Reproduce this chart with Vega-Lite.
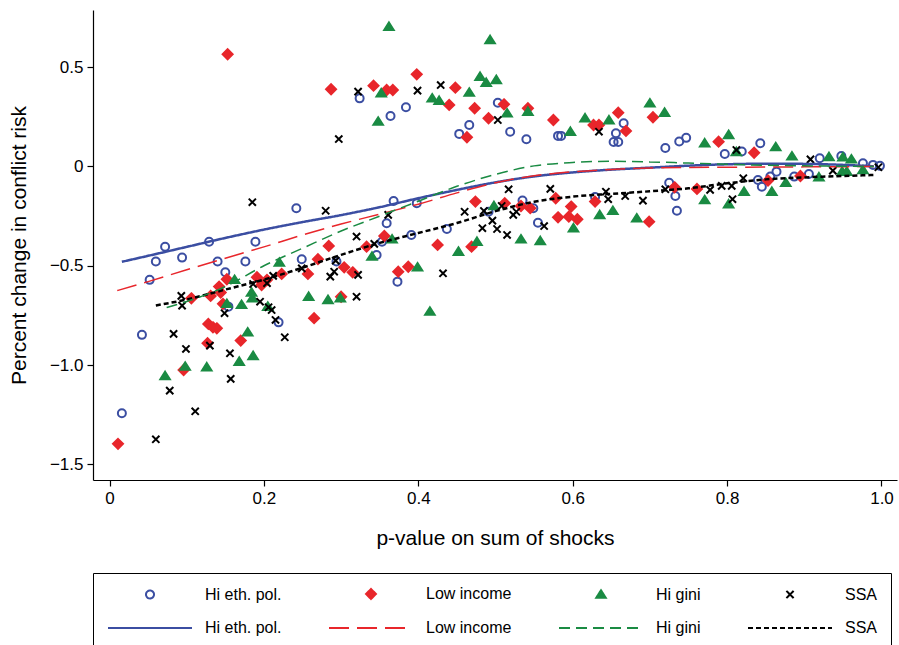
{
  "$schema": "https://vega.github.io/schema/vega-lite/v6.json",
  "width": 804,
  "height": 470,
  "autosize": {"type": "none"},
  "padding": {"left": 93, "top": 10, "right": 2, "bottom": 165},
  "background": "white",
  "config": {
    "view": {"stroke": null},
    "font": "Liberation Sans",
    "axis": {"grid": false, "domainColor": "#000", "domainWidth": 1.2, "tickColor": "#000", "tickWidth": 1.2, "tickSize": 6, "labelColor": "#000", "labelFont": "Liberation Sans", "labelFontSize": 17, "titleFont": "Liberation Sans", "titleFontSize": 21, "titleFontWeight": "normal", "titleColor": "#000"},
    "legend": {"labelFont": "Liberation Sans", "labelFontSize": 16, "labelColor": "#000", "symbolSize": 100, "symbolStrokeWidth": 2, "symbolOpacity": 1}
  },
  "datasets": {
    "pts": [
      {"k":"Hi eth. pol.","p":0.016,"v":-1.243},{"k":"Hi eth. pol.","p":0.042,"v":-0.848},{"k":"Hi eth. pol.","p":0.052,"v":-0.571},{"k":"Hi eth. pol.","p":0.060,"v":-0.479},{"k":"Hi eth. pol.","p":0.072,"v":-0.404},{"k":"Hi eth. pol.","p":0.094,"v":-0.459},{"k":"Hi eth. pol.","p":0.129,"v":-0.379},{"k":"Hi eth. pol.","p":0.140,"v":-0.479},{"k":"Hi eth. pol.","p":0.150,"v":-0.533},{"k":"Hi eth. pol.","p":0.154,"v":-0.706},{"k":"Hi eth. pol.","p":0.176,"v":-0.479},{"k":"Hi eth. pol.","p":0.189,"v":-0.379},{"k":"Hi eth. pol.","p":0.219,"v":-0.785},{"k":"Hi eth. pol.","p":0.242,"v":-0.210},{"k":"Hi eth. pol.","p":0.249,"v":-0.467},{"k":"Hi eth. pol.","p":0.294,"v":-0.479},{"k":"Hi eth. pol.","p":0.346,"v":-0.446},{"k":"Hi eth. pol.","p":0.353,"v":-0.379},{"k":"Hi eth. pol.","p":0.359,"v":-0.286},{"k":"Hi eth. pol.","p":0.368,"v":-0.174},{"k":"Hi eth. pol.","p":0.398,"v":-0.185},{"k":"Hi eth. pol.","p":0.373,"v":-0.580},{"k":"Hi eth. pol.","p":0.391,"v":-0.345},{"k":"Hi eth. pol.","p":0.437,"v":-0.315},{"k":"Hi eth. pol.","p":0.491,"v":-0.228},{"k":"Hi eth. pol.","p":0.535,"v":-0.172},{"k":"Hi eth. pol.","p":0.549,"v":-0.210},{"k":"Hi eth. pol.","p":0.555,"v":-0.283},{"k":"Hi eth. pol.","p":0.629,"v":-0.154},{"k":"Hi eth. pol.","p":0.725,"v":-0.082},{"k":"Hi eth. pol.","p":0.733,"v":-0.149},{"k":"Hi eth. pol.","p":0.735,"v":-0.223},{"k":"Hi eth. pol.","p":0.797,"v":0.063},{"k":"Hi eth. pol.","p":0.819,"v":0.075},{"k":"Hi eth. pol.","p":0.843,"v":0.117},{"k":"Hi eth. pol.","p":0.840,"v":-0.068},{"k":"Hi eth. pol.","p":0.845,"v":-0.102},{"k":"Hi eth. pol.","p":0.856,"v":-0.051},{"k":"Hi eth. pol.","p":0.864,"v":-0.026},{"k":"Hi eth. pol.","p":0.887,"v":-0.051},{"k":"Hi eth. pol.","p":0.906,"v":-0.038},{"k":"Hi eth. pol.","p":0.920,"v":0.041},{"k":"Hi eth. pol.","p":0.976,"v":0.016},{"k":"Hi eth. pol.","p":0.989,"v":0.008},{"k":"Hi eth. pol.","p":0.998,"v":0.003},{"k":"Hi eth. pol.","p":0.324,"v":0.343},{"k":"Hi eth. pol.","p":0.364,"v":0.254},{"k":"Hi eth. pol.","p":0.384,"v":0.298},{"k":"Hi eth. pol.","p":0.453,"v":0.164},{"k":"Hi eth. pol.","p":0.466,"v":0.209},{"k":"Hi eth. pol.","p":0.503,"v":0.321},{"k":"Hi eth. pol.","p":0.519,"v":0.175},{"k":"Hi eth. pol.","p":0.540,"v":0.137},{"k":"Hi eth. pol.","p":0.581,"v":0.154},{"k":"Hi eth. pol.","p":0.585,"v":0.154},{"k":"Hi eth. pol.","p":0.666,"v":0.218},{"k":"Hi eth. pol.","p":0.656,"v":0.167},{"k":"Hi eth. pol.","p":0.653,"v":0.123},{"k":"Hi eth. pol.","p":0.659,"v":0.123},{"k":"Hi eth. pol.","p":0.720,"v":0.093},{"k":"Hi eth. pol.","p":0.738,"v":0.126},{"k":"Hi eth. pol.","p":0.747,"v":0.144},{"k":"Hi eth. pol.","p":0.948,"v":0.053},
      {"k":"Low income","p":0.011,"v":-1.397},{"k":"Low income","p":0.096,"v":-1.025},{"k":"Low income","p":0.106,"v":-0.664},{"k":"Low income","p":0.128,"v":-0.793},{"k":"Low income","p":0.134,"v":-0.810},{"k":"Low income","p":0.139,"v":-0.815},{"k":"Low income","p":0.127,"v":-0.890},{"k":"Low income","p":0.131,"v":-0.652},{"k":"Low income","p":0.142,"v":-0.605},{"k":"Low income","p":0.144,"v":-0.635},{"k":"Low income","p":0.147,"v":-0.692},{"k":"Low income","p":0.152,"v":-0.568},{"k":"Low income","p":0.170,"v":-0.877},{"k":"Low income","p":0.191,"v":-0.558},{"k":"Low income","p":0.197,"v":-0.597},{"k":"Low income","p":0.204,"v":-0.571},{"k":"Low income","p":0.223,"v":-0.541},{"k":"Low income","p":0.257,"v":-0.541},{"k":"Low income","p":0.265,"v":-0.764},{"k":"Low income","p":0.270,"v":-0.467},{"k":"Low income","p":0.284,"v":-0.400},{"k":"Low income","p":0.300,"v":-0.656},{"k":"Low income","p":0.304,"v":-0.508},{"k":"Low income","p":0.315,"v":-0.533},{"k":"Low income","p":0.333,"v":-0.404},{"k":"Low income","p":0.356,"v":-0.350},{"k":"Low income","p":0.374,"v":-0.530},{"k":"Low income","p":0.387,"v":-0.505},{"k":"Low income","p":0.425,"v":-0.395},{"k":"Low income","p":0.469,"v":-0.404},{"k":"Low income","p":0.474,"v":-0.177},{"k":"Low income","p":0.512,"v":-0.185},{"k":"Low income","p":0.533,"v":-0.199},{"k":"Low income","p":0.545,"v":-0.210},{"k":"Low income","p":0.578,"v":-0.160},{"k":"Low income","p":0.581,"v":-0.256},{"k":"Low income","p":0.595,"v":-0.253},{"k":"Low income","p":0.598,"v":-0.202},{"k":"Low income","p":0.606,"v":-0.266},{"k":"Low income","p":0.629,"v":-0.177},{"k":"Low income","p":0.699,"v":-0.278},{"k":"Low income","p":0.732,"v":-0.105},{"k":"Low income","p":0.761,"v":-0.113},{"k":"Low income","p":0.853,"v":-0.071},{"k":"Low income","p":0.895,"v":-0.048},{"k":"Low income","p":0.659,"v":0.271},{"k":"Low income","p":0.704,"v":0.248},{"k":"Low income","p":0.627,"v":0.209},{"k":"Low income","p":0.634,"v":0.209},{"k":"Low income","p":0.669,"v":0.179},{"k":"Low income","p":0.789,"v":0.125},{"k":"Low income","p":0.835,"v":0.069},{"k":"Low income","p":0.287,"v":0.389},{"k":"Low income","p":0.342,"v":0.407},{"k":"Low income","p":0.359,"v":0.385},{"k":"Low income","p":0.367,"v":0.385},{"k":"Low income","p":0.398,"v":0.464},{"k":"Low income","p":0.448,"v":0.397},{"k":"Low income","p":0.440,"v":0.310},{"k":"Low income","p":0.473,"v":0.293},{"k":"Low income","p":0.463,"v":0.147},{"k":"Low income","p":0.491,"v":0.243},{"k":"Low income","p":0.511,"v":0.313},{"k":"Low income","p":0.542,"v":0.293},{"k":"Low income","p":0.575,"v":0.234},{"k":"Low income","p":0.153,"v":0.565},
      {"k":"Hi gini","p":0.072,"v":-1.055},{"k":"Hi gini","p":0.098,"v":-1.008},{"k":"Hi gini","p":0.126,"v":-1.011},{"k":"Hi gini","p":0.162,"v":-0.571},{"k":"Hi gini","p":0.152,"v":-0.692},{"k":"Hi gini","p":0.171,"v":-0.697},{"k":"Hi gini","p":0.184,"v":-0.635},{"k":"Hi gini","p":0.185,"v":-0.664},{"k":"Hi gini","p":0.179,"v":-0.835},{"k":"Hi gini","p":0.168,"v":-0.983},{"k":"Hi gini","p":0.186,"v":-0.954},{"k":"Hi gini","p":0.220,"v":-0.484},{"k":"Hi gini","p":0.205,"v":-0.706},{"k":"Hi gini","p":0.258,"v":-0.656},{"k":"Hi gini","p":0.283,"v":-0.672},{"k":"Hi gini","p":0.299,"v":-0.664},{"k":"Hi gini","p":0.340,"v":-0.454},{"k":"Hi gini","p":0.366,"v":-0.367},{"k":"Hi gini","p":0.399,"v":-0.508},{"k":"Hi gini","p":0.415,"v":-0.731},{"k":"Hi gini","p":0.452,"v":-0.429},{"k":"Hi gini","p":0.476,"v":-0.379},{"k":"Hi gini","p":0.498,"v":-0.199},{"k":"Hi gini","p":0.533,"v":-0.367},{"k":"Hi gini","p":0.558,"v":-0.375},{"k":"Hi gini","p":0.601,"v":-0.311},{"k":"Hi gini","p":0.635,"v":-0.244},{"k":"Hi gini","p":0.652,"v":-0.223},{"k":"Hi gini","p":0.683,"v":-0.261},{"k":"Hi gini","p":0.771,"v":-0.169},{"k":"Hi gini","p":0.802,"v":-0.190},{"k":"Hi gini","p":0.822,"v":-0.127},{"k":"Hi gini","p":0.858,"v":-0.127},{"k":"Hi gini","p":0.876,"v":-0.082},{"k":"Hi gini","p":0.919,"v":-0.054},{"k":"Hi gini","p":0.949,"v":-0.026},{"k":"Hi gini","p":0.955,"v":-0.026},{"k":"Hi gini","p":0.976,"v":-0.018},{"k":"Hi gini","p":0.362,"v":0.704},{"k":"Hi gini","p":0.352,"v":0.369},{"k":"Hi gini","p":0.348,"v":0.226},{"k":"Hi gini","p":0.418,"v":0.343},{"k":"Hi gini","p":0.427,"v":0.331},{"k":"Hi gini","p":0.466,"v":0.372},{"k":"Hi gini","p":0.480,"v":0.452},{"k":"Hi gini","p":0.488,"v":0.422},{"k":"Hi gini","p":0.501,"v":0.436},{"k":"Hi gini","p":0.493,"v":0.637},{"k":"Hi gini","p":0.515,"v":0.268},{"k":"Hi gini","p":0.542,"v":0.276},{"k":"Hi gini","p":0.597,"v":0.175},{"k":"Hi gini","p":0.616,"v":0.243},{"k":"Hi gini","p":0.647,"v":0.233},{"k":"Hi gini","p":0.700,"v":0.318},{"k":"Hi gini","p":0.719,"v":0.271},{"k":"Hi gini","p":0.771,"v":0.117},{"k":"Hi gini","p":0.802,"v":0.159},{"k":"Hi gini","p":0.812,"v":0.073},{"k":"Hi gini","p":0.863,"v":0.098},{"k":"Hi gini","p":0.884,"v":0.051},{"k":"Hi gini","p":0.932,"v":0.048},{"k":"Hi gini","p":0.950,"v":0.046},{"k":"Hi gini","p":0.961,"v":0.036},
      {"k":"SSA","p":0.060,"v":-1.374},{"k":"SSA","p":0.078,"v":-1.129},{"k":"SSA","p":0.111,"v":-1.233},{"k":"SSA","p":0.083,"v":-0.843},{"k":"SSA","p":0.099,"v":-0.919},{"k":"SSA","p":0.093,"v":-0.652},{"k":"SSA","p":0.094,"v":-0.701},{"k":"SSA","p":0.130,"v":-0.902},{"k":"SSA","p":0.149,"v":-0.739},{"k":"SSA","p":0.156,"v":-0.941},{"k":"SSA","p":0.157,"v":-1.070},{"k":"SSA","p":0.185,"v":-0.180},{"k":"SSA","p":0.186,"v":-0.592},{"k":"SSA","p":0.195,"v":-0.681},{"k":"SSA","p":0.204,"v":-0.588},{"k":"SSA","p":0.212,"v":-0.551},{"k":"SSA","p":0.206,"v":-0.709},{"k":"SSA","p":0.210,"v":-0.723},{"k":"SSA","p":0.215,"v":-0.773},{"k":"SSA","p":0.227,"v":-0.860},{"k":"SSA","p":0.249,"v":-0.513},{"k":"SSA","p":0.286,"v":-0.555},{"k":"SSA","p":0.291,"v":-0.530},{"k":"SSA","p":0.293,"v":-0.474},{"k":"SSA","p":0.320,"v":-0.353},{"k":"SSA","p":0.322,"v":-0.546},{"k":"SSA","p":0.320,"v":-0.656},{"k":"SSA","p":0.343,"v":-0.390},{"k":"SSA","p":0.280,"v":-0.223},{"k":"SSA","p":0.361,"v":-0.244},{"k":"SSA","p":0.460,"v":-0.228},{"k":"SSA","p":0.485,"v":-0.224},{"k":"SSA","p":0.517,"v":-0.115},{"k":"SSA","p":0.508,"v":-0.199},{"k":"SSA","p":0.523,"v":-0.244},{"k":"SSA","p":0.527,"v":-0.228},{"k":"SSA","p":0.496,"v":-0.273},{"k":"SSA","p":0.483,"v":-0.311},{"k":"SSA","p":0.502,"v":-0.315},{"k":"SSA","p":0.515,"v":-0.345},{"k":"SSA","p":0.563,"v":-0.300},{"k":"SSA","p":0.571,"v":-0.113},{"k":"SSA","p":0.432,"v":-0.538},{"k":"SSA","p":0.643,"v":-0.127},{"k":"SSA","p":0.646,"v":-0.165},{"k":"SSA","p":0.668,"v":-0.149},{"k":"SSA","p":0.691,"v":-0.172},{"k":"SSA","p":0.720,"v":-0.115},{"k":"SSA","p":0.634,"v":0.175},{"k":"SSA","p":0.778,"v":-0.118},{"k":"SSA","p":0.793,"v":-0.098},{"k":"SSA","p":0.806,"v":-0.098},{"k":"SSA","p":0.821,"v":-0.059},{"k":"SSA","p":0.807,"v":-0.165},{"k":"SSA","p":0.812,"v":0.083},{"k":"SSA","p":0.908,"v":0.036},{"k":"SSA","p":0.937,"v":-0.021},{"k":"SSA","p":0.996,"v":-0.004},{"k":"SSA","p":0.322,"v":0.377},{"k":"SSA","p":0.399,"v":0.382},{"k":"SSA","p":0.429,"v":0.410},{"k":"SSA","p":0.297,"v":0.138},{"k":"SSA","p":0.503,"v":0.234}
    ],
    "fits": [
      {"k":"Hi eth. pol. fit","p":0.016,"v":-0.48},{"k":"Hi eth. pol. fit","p":0.05,"v":-0.45},{"k":"Hi eth. pol. fit","p":0.1,"v":-0.405},{"k":"Hi eth. pol. fit","p":0.15,"v":-0.36},{"k":"Hi eth. pol. fit","p":0.2,"v":-0.318},{"k":"Hi eth. pol. fit","p":0.25,"v":-0.28},{"k":"Hi eth. pol. fit","p":0.3,"v":-0.245},{"k":"Hi eth. pol. fit","p":0.35,"v":-0.205},{"k":"Hi eth. pol. fit","p":0.4,"v":-0.16},{"k":"Hi eth. pol. fit","p":0.45,"v":-0.118},{"k":"Hi eth. pol. fit","p":0.5,"v":-0.08},{"k":"Hi eth. pol. fit","p":0.55,"v":-0.05},{"k":"Hi eth. pol. fit","p":0.6,"v":-0.03},{"k":"Hi eth. pol. fit","p":0.65,"v":-0.016},{"k":"Hi eth. pol. fit","p":0.7,"v":-0.006},{"k":"Hi eth. pol. fit","p":0.75,"v":0.004},{"k":"Hi eth. pol. fit","p":0.8,"v":0.011},{"k":"Hi eth. pol. fit","p":0.85,"v":0.014},{"k":"Hi eth. pol. fit","p":0.9,"v":0.013},{"k":"Hi eth. pol. fit","p":0.95,"v":0.008},{"k":"Hi eth. pol. fit","p":0.99,"v":0.001},
      {"k":"Low income fit","p":0.01,"v":-0.625},{"k":"Low income fit","p":0.05,"v":-0.58},{"k":"Low income fit","p":0.1,"v":-0.52},{"k":"Low income fit","p":0.15,"v":-0.462},{"k":"Low income fit","p":0.2,"v":-0.405},{"k":"Low income fit","p":0.25,"v":-0.345},{"k":"Low income fit","p":0.3,"v":-0.29},{"k":"Low income fit","p":0.35,"v":-0.24},{"k":"Low income fit","p":0.4,"v":-0.19},{"k":"Low income fit","p":0.45,"v":-0.133},{"k":"Low income fit","p":0.5,"v":-0.082},{"k":"Low income fit","p":0.55,"v":-0.047},{"k":"Low income fit","p":0.6,"v":-0.027},{"k":"Low income fit","p":0.65,"v":-0.015},{"k":"Low income fit","p":0.7,"v":-0.008},{"k":"Low income fit","p":0.75,"v":-0.005},{"k":"Low income fit","p":0.8,"v":-0.004},{"k":"Low income fit","p":0.85,"v":-0.003},{"k":"Low income fit","p":0.9,"v":-0.002},{"k":"Low income fit","p":0.95,"v":-0.001},{"k":"Low income fit","p":0.99,"v":0.0},
      {"k":"Hi gini fit","p":0.074,"v":-0.71},{"k":"Hi gini fit","p":0.1,"v":-0.68},{"k":"Hi gini fit","p":0.15,"v":-0.605},{"k":"Hi gini fit","p":0.2,"v":-0.5},{"k":"Hi gini fit","p":0.25,"v":-0.412},{"k":"Hi gini fit","p":0.3,"v":-0.325},{"k":"Hi gini fit","p":0.35,"v":-0.25},{"k":"Hi gini fit","p":0.4,"v":-0.175},{"k":"Hi gini fit","p":0.45,"v":-0.1},{"k":"Hi gini fit","p":0.5,"v":-0.04},{"k":"Hi gini fit","p":0.55,"v":0.003},{"k":"Hi gini fit","p":0.6,"v":0.02},{"k":"Hi gini fit","p":0.65,"v":0.026},{"k":"Hi gini fit","p":0.7,"v":0.023},{"k":"Hi gini fit","p":0.75,"v":0.017},{"k":"Hi gini fit","p":0.8,"v":0.011},{"k":"Hi gini fit","p":0.85,"v":0.006},{"k":"Hi gini fit","p":0.9,"v":0.003},{"k":"Hi gini fit","p":0.95,"v":0.001},{"k":"Hi gini fit","p":0.99,"v":0.0},
      {"k":"SSA fit","p":0.06,"v":-0.70},{"k":"SSA fit","p":0.1,"v":-0.67},{"k":"SSA fit","p":0.15,"v":-0.62},{"k":"SSA fit","p":0.2,"v":-0.57},{"k":"SSA fit","p":0.25,"v":-0.51},{"k":"SSA fit","p":0.3,"v":-0.445},{"k":"SSA fit","p":0.35,"v":-0.385},{"k":"SSA fit","p":0.4,"v":-0.335},{"k":"SSA fit","p":0.45,"v":-0.285},{"k":"SSA fit","p":0.5,"v":-0.225},{"k":"SSA fit","p":0.55,"v":-0.178},{"k":"SSA fit","p":0.6,"v":-0.152},{"k":"SSA fit","p":0.65,"v":-0.138},{"k":"SSA fit","p":0.7,"v":-0.125},{"k":"SSA fit","p":0.75,"v":-0.11},{"k":"SSA fit","p":0.8,"v":-0.085},{"k":"SSA fit","p":0.85,"v":-0.065},{"k":"SSA fit","p":0.9,"v":-0.055},{"k":"SSA fit","p":0.95,"v":-0.048},{"k":"SSA fit","p":0.99,"v":-0.043}
    ]
  },
  "layer": [
    {
      "mark": {"type": "rule", "color": "#666666", "strokeWidth": 2.5},
      "encoding": {"y": {"datum": 0, "type": "quantitative", "scale": {"domain": [-1.579, 0.788], "nice": false, "zero": false},
          "axis": {"values": [-1.5, -1, -0.5, 0, 0.5], "labelExpr": "datum.value == 0 ? '0' : replace(format(datum.value, '.1f'), '-', '\u2212')", "title": "Percent change in conflict risk", "titlePadding": 20, "labelPadding": 4, "labelFlush": false}}}
    },
    {
      "mark": {"type": "rule", "color": "#555555", "strokeWidth": 2, "strokeDash": [9, 6]},
      "encoding": {"x": {"datum": 0.05, "type": "quantitative", "scale": {"domain": [-0.0214, 1.0201], "nice": false, "zero": false},
          "axis": {"values": [0, 0.2, 0.4, 0.6, 0.8, 1], "labelExpr": "datum.value == 0 ? '0' : format(datum.value, '.1f')", "title": "p-value on sum of shocks", "titlePadding": 21, "labelPadding": 4, "labelFlush": false}}}
    },
    {
      "data": {"name": "pts"},
      "mark": {"type": "point", "size": 100, "strokeWidth": 2, "opacity": 1},
      "encoding": {
        "x": {"field": "p", "type": "quantitative", "title": "p-value on sum of shocks"},
        "y": {"field": "v", "type": "quantitative", "title": "Percent change in conflict risk"},
        "shape": {"field": "k", "type": "nominal",
          "scale": {"domain": ["Hi eth. pol.", "Low income", "Hi gini", "SSA", "Hi eth. pol. fit", "Low income fit", "Hi gini fit", "SSA fit"],
            "range": ["M0.8,0A0.8,0.8,0,1,1,-0.8,0A0.8,0.8,0,1,1,0.8,0Z", "M0,-1L1,0L0,1L-1,0Z", "M0,-0.85L0.95,0.65L-0.95,0.65Z", "M-0.72,-0.72L0.72,0.72M-0.72,0.72L0.72,-0.72", "M-8.4,0H8.4", "M-8.4,0H8.4", "M-8.4,0H8.4", "M-8.4,0H8.4"]},
          "legend": {"orient": "none", "direction": "horizontal", "legendX": 0, "legendY": 563, "columns": 4, "title": null, "labelExpr": "replace(datum.label, ' fit', '')", "symbolOffset": 36, "labelOffset": 47, "columnPadding": 43, "rowPadding": 17, "padding": 13, "strokeColor": "black", "gridAlign": "each"}},
        "fill": {"field": "k", "type": "nominal",
          "scale": {"domain": ["Hi eth. pol.", "Low income", "Hi gini", "SSA", "Hi eth. pol. fit", "Low income fit", "Hi gini fit", "SSA fit"],
            "range": ["transparent", "#e8262b", "#1a8b43", "transparent", "transparent", "transparent", "transparent", "transparent"]},
          "legend": {"orient": "none", "direction": "horizontal", "legendX": 0, "legendY": 563, "columns": 4, "title": null, "labelExpr": "replace(datum.label, ' fit', '')", "symbolOffset": 36, "labelOffset": 47, "columnPadding": 43, "rowPadding": 17, "padding": 13, "strokeColor": "black", "gridAlign": "each"}},
        "stroke": {"field": "k", "type": "nominal",
          "scale": {"domain": ["Hi eth. pol.", "Low income", "Hi gini", "SSA", "Hi eth. pol. fit", "Low income fit", "Hi gini fit", "SSA fit"],
            "range": ["#3b4ea2", "#e8262b", "#1a8b43", "#000000", "#3b4ea2", "#e8262b", "#1a8b43", "#000000"]},
          "legend": {"orient": "none", "direction": "horizontal", "legendX": 0, "legendY": 563, "columns": 4, "title": null, "labelExpr": "replace(datum.label, ' fit', '')", "symbolOffset": 36, "labelOffset": 47, "columnPadding": 43, "rowPadding": 17, "padding": 13, "strokeColor": "black", "gridAlign": "each"}}
      }
    },
    {
      "data": {"name": "fits"},
      "transform": [{"filter": "datum.k == 'Hi eth. pol. fit' || datum.k == 'SSA fit'"}],
      "mark": {"type": "line", "strokeWidth": 2.5, "interpolate": "monotone"},
      "encoding": {
        "x": {"field": "p", "type": "quantitative", "title": "p-value on sum of shocks"},
        "y": {"field": "v", "type": "quantitative", "title": "Percent change in conflict risk"},
        "stroke": {"field": "k", "type": "nominal"},
        "strokeDash": {"field": "k", "type": "nominal",
          "scale": {"domain": ["Hi eth. pol.", "Low income", "Hi gini", "SSA", "Hi eth. pol. fit", "Low income fit", "Hi gini fit", "SSA fit"],
            "range": [[1, 0], [1, 0], [1, 0], [1, 0], [1, 0], [20, 8], [11, 6], [5, 3]]},
          "legend": {"orient": "none", "direction": "horizontal", "legendX": 0, "legendY": 563, "columns": 4, "title": null, "labelExpr": "replace(datum.label, ' fit', '')", "symbolOffset": 36, "labelOffset": 47, "columnPadding": 43, "rowPadding": 17, "padding": 13, "strokeColor": "black", "gridAlign": "each"}}
      }
    },
    {
      "data": {"name": "fits"},
      "transform": [{"filter": "datum.k == 'Low income fit' || datum.k == 'Hi gini fit'"}],
      "mark": {"type": "line", "strokeWidth": 1.5, "interpolate": "monotone"},
      "encoding": {
        "x": {"field": "p", "type": "quantitative", "title": "p-value on sum of shocks"},
        "y": {"field": "v", "type": "quantitative", "title": "Percent change in conflict risk"},
        "stroke": {"field": "k", "type": "nominal"},
        "strokeDash": {"field": "k", "type": "nominal"}
      }
    }
  ]
}
